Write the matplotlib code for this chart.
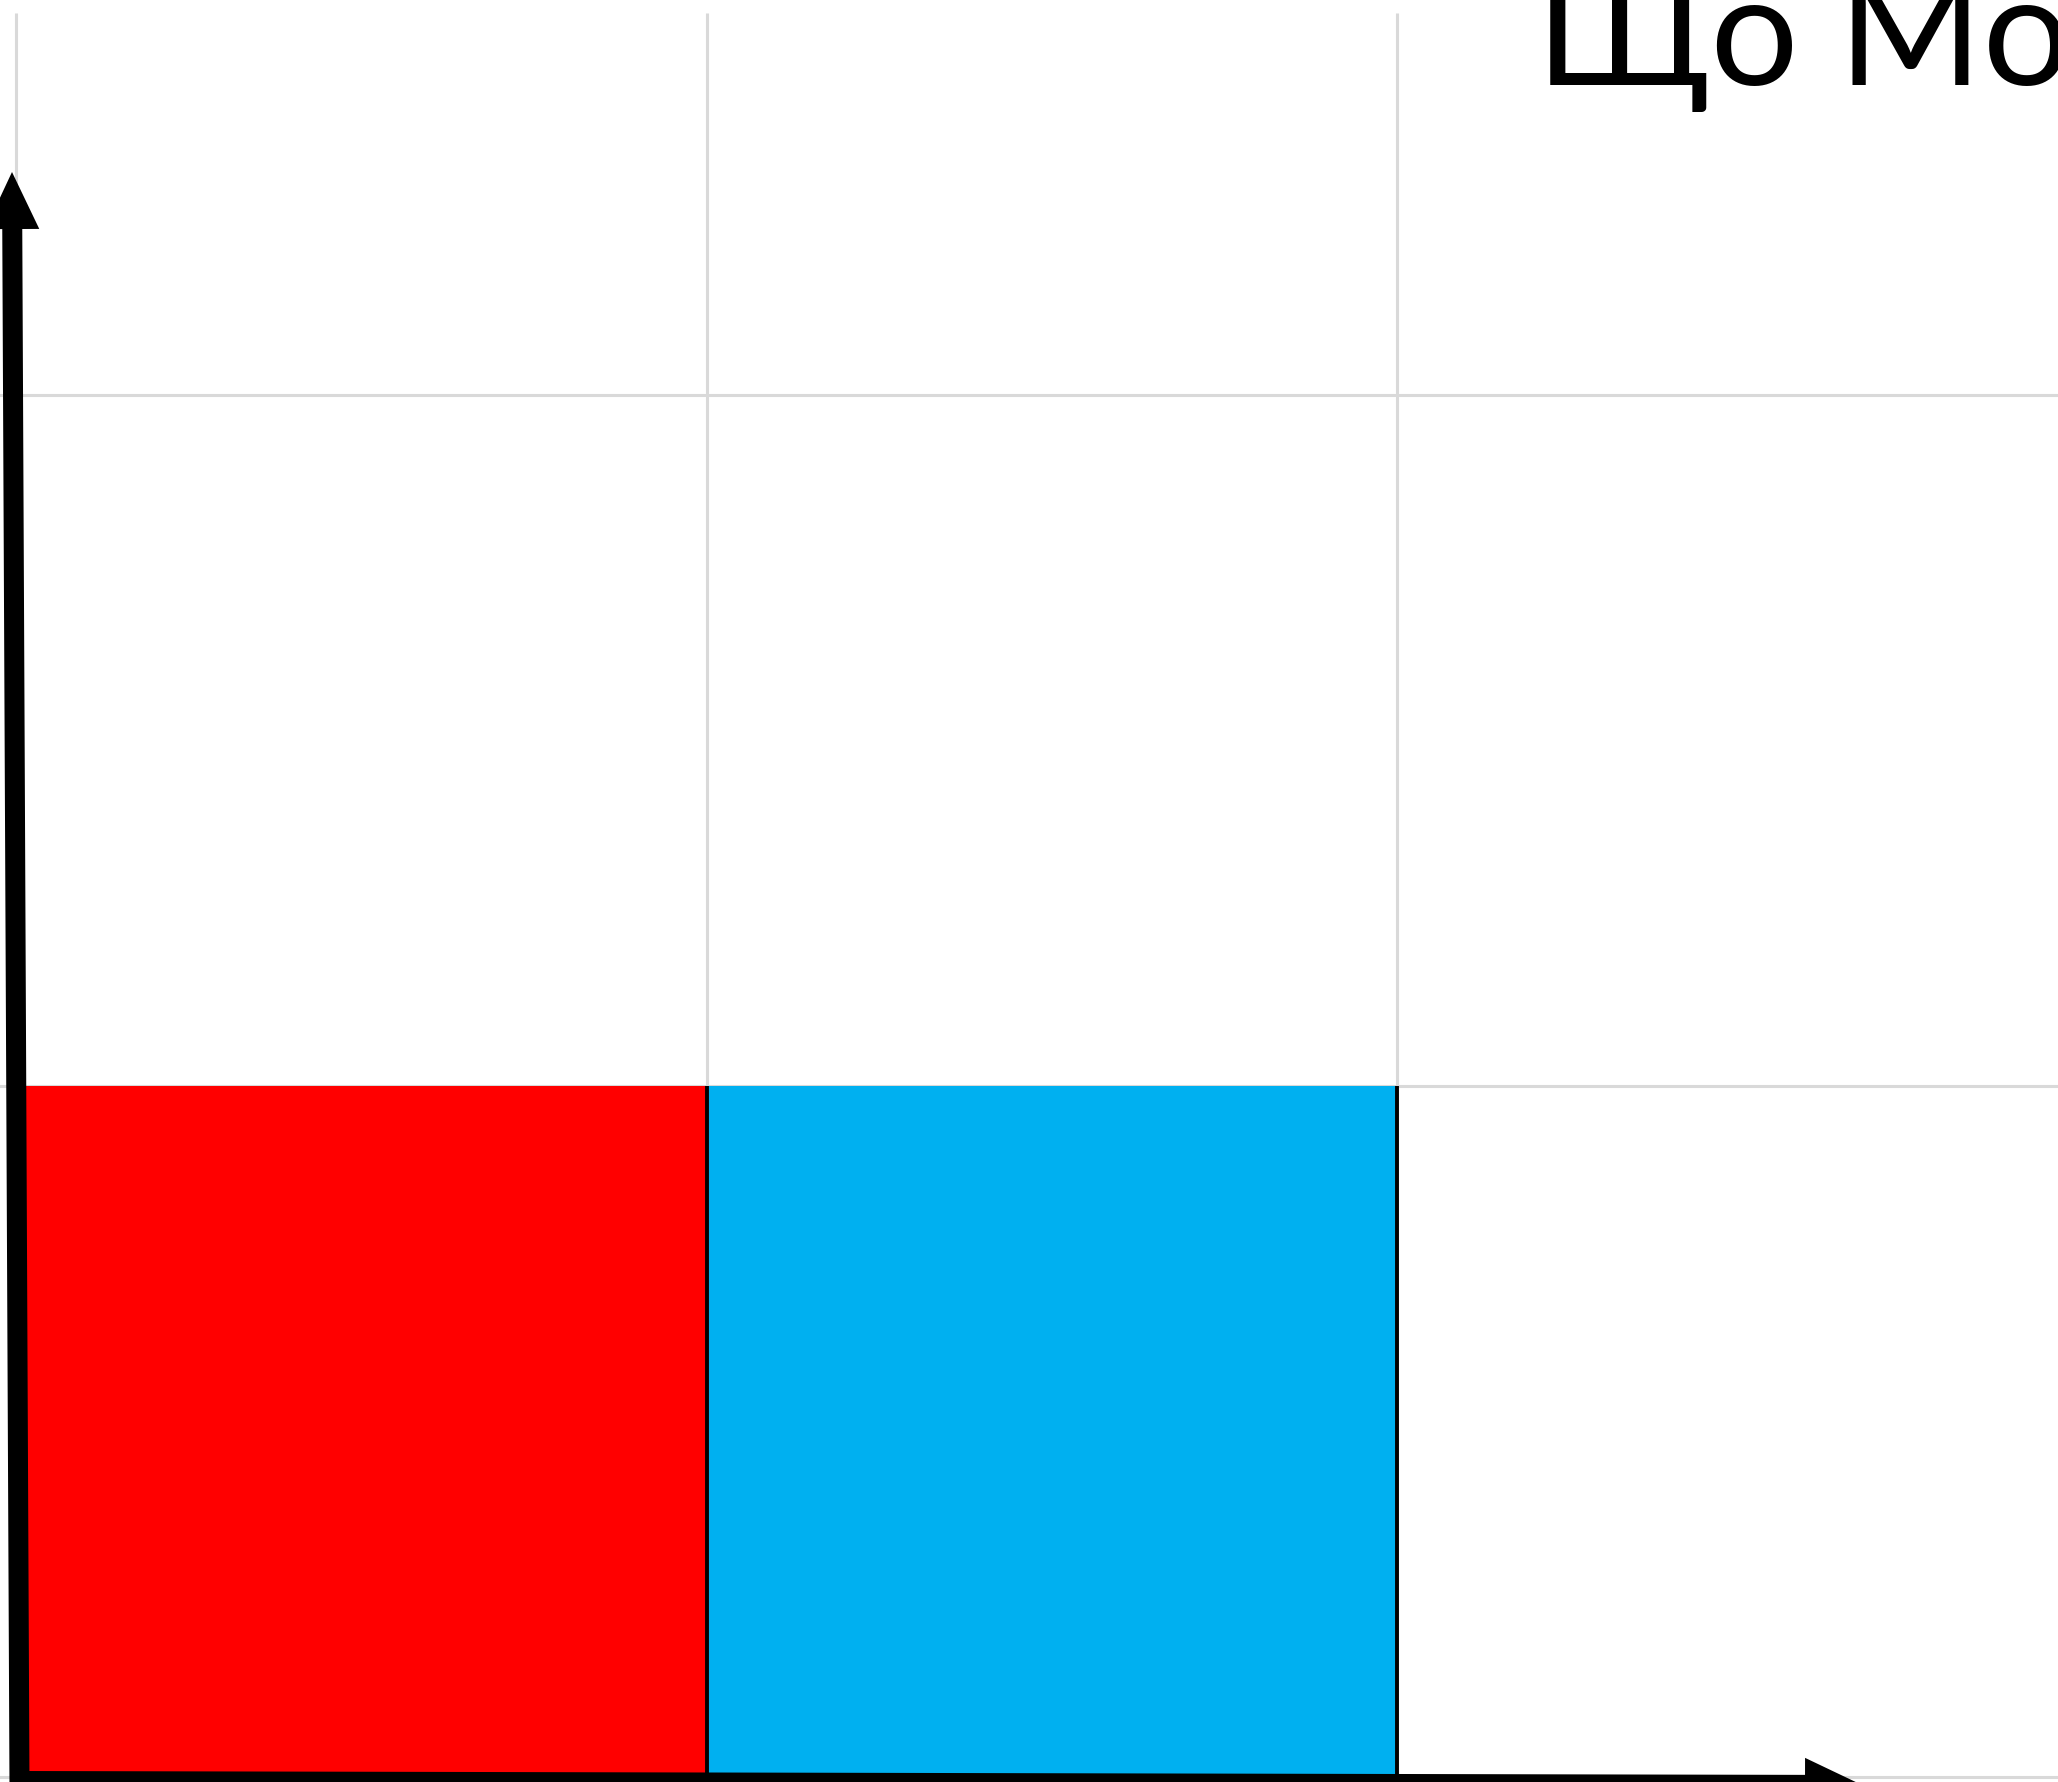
import matplotlib
matplotlib.use("Agg")
import matplotlib.pyplot as plt

# ---- data ----
bar_lefts = [0, 1]          # category positions (grid units)
bar_heights = [1, 1]        # bar values
bar_colors = ["#FF0000", "#00B0F0"]
grid_x = [0, 1, 2]
grid_y = [0, 1, 2]
title_text = "Що Мо"

W, H, DPI = 2058, 1783, 100
fig = plt.figure(figsize=(W / DPI, H / DPI), dpi=DPI)
ax = fig.add_axes([0, 0, 1, 1])
ax.set_axis_off()

# pixel -> data mapping (grid spacing ~690.5 px)
px_x0, px_unit_x = 16, 690.5
px_y0, px_unit_y = 1778, 691
ax.set_xlim((0 - px_x0) / px_unit_x, (W - px_x0) / px_unit_x)
ax.set_ylim((px_y0 - H) / px_unit_y, px_y0 / px_unit_y)

grid_col = "#D9D9D9"
gtop = (px_y0 - 14) / px_unit_y
for gx in grid_x:
    ax.plot([gx, gx], [ax.get_ylim()[0], gtop], color=grid_col, lw=2.2, zorder=0,
            solid_capstyle="butt")
for gy in grid_y:
    ax.axhline(gy, color=grid_col, lw=2.2, zorder=0)

# bars
ax.bar(bar_lefts, bar_heights, width=1, align="edge", color=bar_colors,
       linewidth=0, zorder=1)
# black right edges of bars
for left, h in zip(bar_lefts, bar_heights):
    ax.plot([left + 1, left + 1], [0, h], color="black", lw=2.8, zorder=2,
            solid_capstyle="butt")

# axes arrows (decorations)
def p2d(px, py):
    return (px - px_x0) / px_unit_x, (px_y0 - py) / px_unit_y

sw = 20 / px_unit_x
hw = 54 / px_unit_x
hl = 57 / px_unit_x
# y axis arrow (slightly slanted)
x0, y0 = p2d(19.5, 1790)
x1, y1 = p2d(12, 173)
ax.arrow(x0, y0, x1 - x0, y1 - y0, width=sw, head_width=hw, head_length=hl,
         length_includes_head=True, color="black", lw=0, zorder=3)
# x axis arrow
x0, y0 = p2d(14, 1782)
x1, y1 = p2d(1862, 1786)
ax.arrow(x0, y0, x1 - x0, y1 - y0, width=sw, head_width=hw, head_length=hl,
         length_includes_head=True, color="black", lw=0, zorder=3)

fig.text(1536 / W, 1 - 85 / H, title_text, ha="left", va="baseline",
         fontsize=112, family=["Lato", "DejaVu Sans"], color="black")

fig.savefig("out.png", dpi=DPI)
